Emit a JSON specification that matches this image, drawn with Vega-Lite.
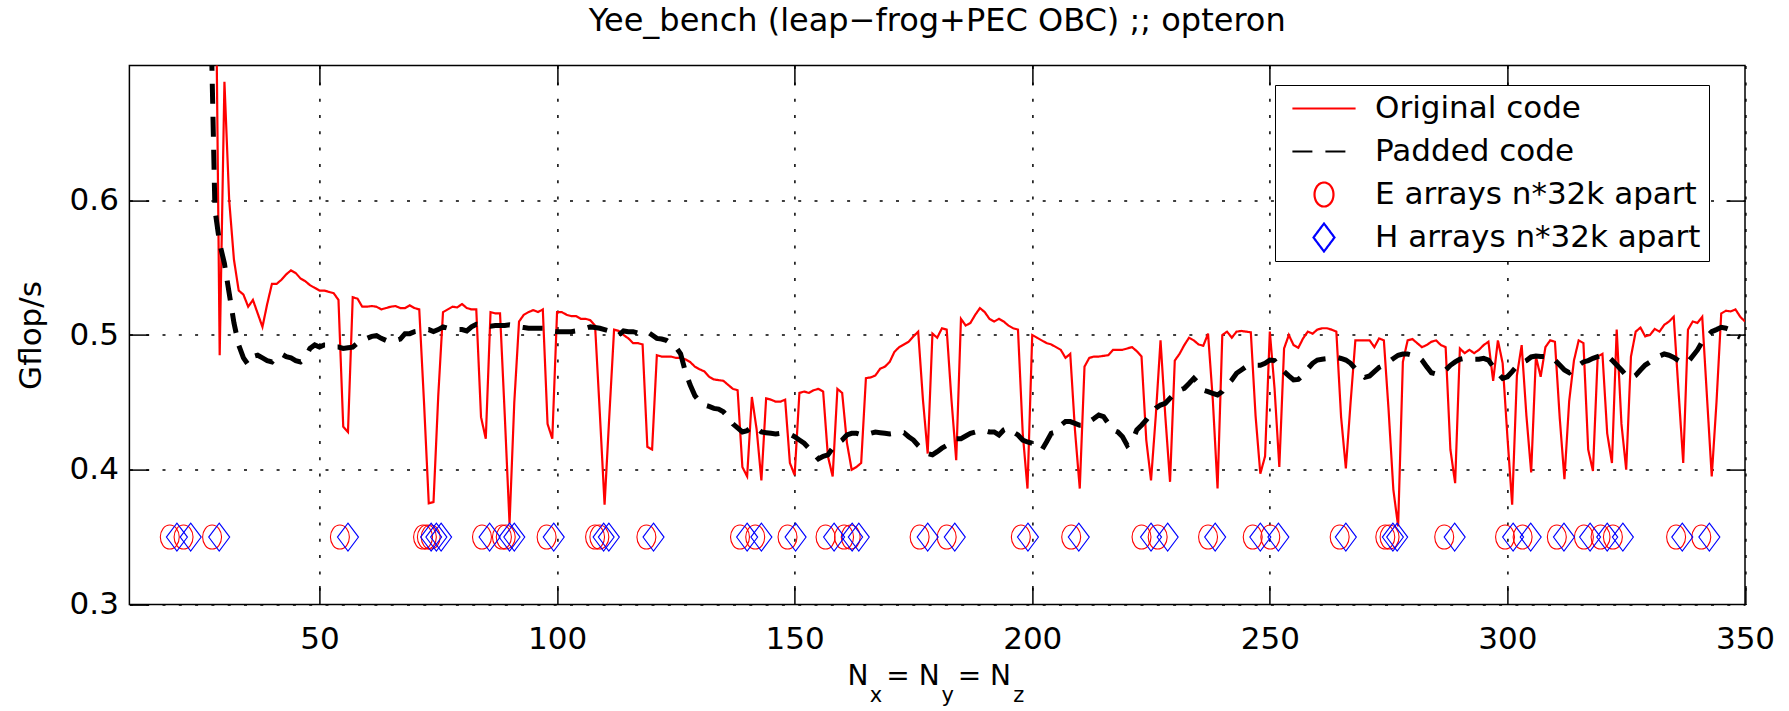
{
  "$schema": "https://vega.github.io/schema/vega-lite/v6.json",
  "width": 1615.6,
  "height": 538.8,
  "autosize": {"type": "none"},
  "padding": {"left": 129.4, "top": 65.6, "right": 44, "bottom": 106.6},
  "background": "#ffffff",
  "config": {
    "font": "DejaVu Sans",
    "view": {"stroke": "#000000", "strokeWidth": 1.5}
  },
  "title": {
    "text": "Yee_bench (leap−frog+PEC OBC) ;; opteron",
    "font": "DejaVu Sans",
    "fontSize": 32,
    "fontWeight": "normal",
    "color": "#000000",
    "anchor": "middle",
    "frame": "group",
    "offset": 27
  },
  "datasets": {
    "orig": [
      {"N":28,"v":0.84},{"N":29,"v":0.485},{"N":30,"v":0.688},{"N":31,"v":0.6},{"N":32,"v":0.556},{"N":33,"v":0.533},{"N":34,"v":0.53},{"N":35,"v":0.521},{"N":36,"v":0.526},{"N":37,"v":0.516},{"N":38,"v":0.506},{"N":39,"v":0.523},{"N":40,"v":0.538},{"N":41,"v":0.538},{"N":42,"v":0.541},{"N":43,"v":0.545},{"N":44,"v":0.548},{"N":45,"v":0.546},{"N":46,"v":0.542},{"N":47,"v":0.54},{"N":48,"v":0.537},{"N":49,"v":0.535},{"N":50,"v":0.533},
      {"N":51,"v":0.533},{"N":52,"v":0.532},{"N":53,"v":0.531},{"N":54,"v":0.526},{"N":55,"v":0.432},{"N":56,"v":0.428},{"N":57,"v":0.528},{"N":58,"v":0.527},{"N":59,"v":0.521},{"N":60,"v":0.521},{"N":61,"v":0.5215},{"N":62,"v":0.521},{"N":63,"v":0.519},{"N":64,"v":0.52},{"N":65,"v":0.521},{"N":66,"v":0.5215},{"N":67,"v":0.52},{"N":68,"v":0.52},{"N":69,"v":0.522},{"N":70,"v":0.52},{"N":71,"v":0.519},{"N":72,"v":0.45},{"N":73,"v":0.375},{"N":74,"v":0.376},{"N":75,"v":0.455},
      {"N":76,"v":0.517},{"N":77,"v":0.519},{"N":78,"v":0.521},{"N":79,"v":0.5205},{"N":80,"v":0.523},{"N":81,"v":0.52},{"N":82,"v":0.519},{"N":83,"v":0.519},{"N":84,"v":0.439},{"N":85,"v":0.423},{"N":86,"v":0.517},{"N":87,"v":0.516},{"N":88,"v":0.516},{"N":89,"v":0.44},{"N":90,"v":0.36},{"N":91,"v":0.45},{"N":92,"v":0.51},{"N":93,"v":0.515},{"N":94,"v":0.517},{"N":95,"v":0.5185},{"N":96,"v":0.517},{"N":97,"v":0.519},{"N":98,"v":0.434},{"N":99,"v":0.423},{"N":100,"v":0.517},
      {"N":101,"v":0.517},{"N":102,"v":0.515},{"N":103,"v":0.514},{"N":104,"v":0.514},{"N":105,"v":0.512},{"N":106,"v":0.512},{"N":107,"v":0.511},{"N":108,"v":0.507},{"N":109,"v":0.442},{"N":110,"v":0.374},{"N":111,"v":0.44},{"N":112,"v":0.504},{"N":113,"v":0.503},{"N":114,"v":0.5},{"N":115,"v":0.4975},{"N":116,"v":0.494},{"N":117,"v":0.494},{"N":118,"v":0.493},{"N":119,"v":0.417},{"N":120,"v":0.415},{"N":121,"v":0.485},{"N":122,"v":0.484},{"N":123,"v":0.484},{"N":124,"v":0.484},{"N":125,"v":0.483},
      {"N":126,"v":0.483},{"N":127,"v":0.482},{"N":128,"v":0.48},{"N":129,"v":0.4765},{"N":130,"v":0.4745},{"N":131,"v":0.473},{"N":132,"v":0.469},{"N":133,"v":0.467},{"N":134,"v":0.4665},{"N":135,"v":0.466},{"N":136,"v":0.463},{"N":137,"v":0.46},{"N":138,"v":0.459},{"N":139,"v":0.402},{"N":140,"v":0.395},{"N":141,"v":0.454},{"N":142,"v":0.43},{"N":143,"v":0.392},{"N":144,"v":0.453},{"N":145,"v":0.452},{"N":146,"v":0.4505},{"N":147,"v":0.4505},{"N":148,"v":0.452},{"N":149,"v":0.405},{"N":150,"v":0.396},
      {"N":151,"v":0.457},{"N":152,"v":0.458},{"N":153,"v":0.457},{"N":154,"v":0.459},{"N":155,"v":0.46},{"N":156,"v":0.458},{"N":157,"v":0.41},{"N":158,"v":0.395},{"N":159,"v":0.46},{"N":160,"v":0.457},{"N":161,"v":0.42},{"N":162,"v":0.4},{"N":163,"v":0.402},{"N":164,"v":0.405},{"N":165,"v":0.468},{"N":166,"v":0.4685},{"N":167,"v":0.47},{"N":168,"v":0.475},{"N":169,"v":0.4765},{"N":170,"v":0.48},{"N":171,"v":0.4875},{"N":172,"v":0.491},{"N":173,"v":0.493},{"N":174,"v":0.495},{"N":175,"v":0.499},
      {"N":176,"v":0.5025},{"N":177,"v":0.452},{"N":178,"v":0.412},{"N":179,"v":0.501},{"N":180,"v":0.498},{"N":181,"v":0.505},{"N":182,"v":0.504},{"N":183,"v":0.452},{"N":184,"v":0.407},{"N":185,"v":0.512},{"N":186,"v":0.507},{"N":187,"v":0.509},{"N":188,"v":0.515},{"N":189,"v":0.52},{"N":190,"v":0.517},{"N":191,"v":0.512},{"N":192,"v":0.51},{"N":193,"v":0.512},{"N":194,"v":0.51},{"N":195,"v":0.507},{"N":196,"v":0.505},{"N":197,"v":0.504},{"N":198,"v":0.427},{"N":199,"v":0.386},{"N":200,"v":0.5},
      {"N":201,"v":0.498},{"N":202,"v":0.496},{"N":203,"v":0.494},{"N":204,"v":0.493},{"N":205,"v":0.491},{"N":206,"v":0.489},{"N":207,"v":0.483},{"N":208,"v":0.486},{"N":209,"v":0.429},{"N":210,"v":0.386},{"N":211,"v":0.4765},{"N":212,"v":0.483},{"N":213,"v":0.484},{"N":214,"v":0.484},{"N":215,"v":0.4845},{"N":216,"v":0.485},{"N":217,"v":0.489},{"N":218,"v":0.489},{"N":219,"v":0.489},{"N":220,"v":0.49},{"N":221,"v":0.491},{"N":222,"v":0.488},{"N":223,"v":0.484},{"N":224,"v":0.422},{"N":225,"v":0.392},
      {"N":226,"v":0.44},{"N":227,"v":0.496},{"N":228,"v":0.44},{"N":229,"v":0.391},{"N":230,"v":0.481},{"N":231,"v":0.486},{"N":232,"v":0.4925},{"N":233,"v":0.498},{"N":234,"v":0.496},{"N":235,"v":0.493},{"N":236,"v":0.492},{"N":237,"v":0.501},{"N":238,"v":0.452},{"N":239,"v":0.386},{"N":240,"v":0.5},{"N":241,"v":0.5025},{"N":242,"v":0.498},{"N":243,"v":0.5025},{"N":244,"v":0.503},{"N":245,"v":0.5025},{"N":246,"v":0.502},{"N":247,"v":0.44},{"N":248,"v":0.397},{"N":249,"v":0.41},{"N":250,"v":0.5025},
      {"N":251,"v":0.46},{"N":252,"v":0.402},{"N":253,"v":0.49},{"N":254,"v":0.5},{"N":255,"v":0.4925},{"N":256,"v":0.4905},{"N":257,"v":0.4975},{"N":258,"v":0.5025},{"N":259,"v":0.501},{"N":260,"v":0.504},{"N":261,"v":0.505},{"N":262,"v":0.505},{"N":263,"v":0.504},{"N":264,"v":0.5025},{"N":265,"v":0.439},{"N":266,"v":0.401},{"N":267,"v":0.45},{"N":268,"v":0.496},{"N":269,"v":0.496},{"N":270,"v":0.496},{"N":271,"v":0.496},{"N":272,"v":0.491},{"N":273,"v":0.4975},{"N":274,"v":0.496},{"N":275,"v":0.444},
      {"N":276,"v":0.385},{"N":277,"v":0.358},{"N":278,"v":0.48},{"N":279,"v":0.496},{"N":280,"v":0.497},{"N":281,"v":0.494},{"N":282,"v":0.491},{"N":283,"v":0.4925},{"N":284,"v":0.495},{"N":285,"v":0.496},{"N":286,"v":0.4925},{"N":287,"v":0.491},{"N":288,"v":0.415},{"N":289,"v":0.39},{"N":290,"v":0.49},{"N":291,"v":0.4865},{"N":292,"v":0.489},{"N":293,"v":0.4865},{"N":294,"v":0.489},{"N":295,"v":0.4925},{"N":296,"v":0.495},{"N":297,"v":0.466},{"N":298,"v":0.496},{"N":299,"v":0.479},{"N":300,"v":0.4245},
      {"N":301,"v":0.374},{"N":302,"v":0.47},{"N":303,"v":0.4925},{"N":304,"v":0.44},{"N":305,"v":0.398},{"N":306,"v":0.484},{"N":307,"v":0.469},{"N":308,"v":0.491},{"N":309,"v":0.496},{"N":310,"v":0.495},{"N":311,"v":0.439},{"N":312,"v":0.393},{"N":313,"v":0.451},{"N":314,"v":0.481},{"N":315,"v":0.496},{"N":316,"v":0.494},{"N":317,"v":0.415},{"N":318,"v":0.399},{"N":319,"v":0.484},{"N":320,"v":0.486},{"N":321,"v":0.427},{"N":322,"v":0.405},{"N":323,"v":0.504},{"N":324,"v":0.434},{"N":325,"v":0.4},
      {"N":326,"v":0.484},{"N":327,"v":0.5025},{"N":328,"v":0.5055},{"N":329,"v":0.499},{"N":330,"v":0.5},{"N":331,"v":0.5045},{"N":332,"v":0.5025},{"N":333,"v":0.5075},{"N":334,"v":0.51},{"N":335,"v":0.5135},{"N":336,"v":0.459},{"N":337,"v":0.405},{"N":338,"v":0.504},{"N":339,"v":0.51},{"N":340,"v":0.509},{"N":341,"v":0.5135},{"N":342,"v":0.454},{"N":343,"v":0.395},{"N":344,"v":0.45},{"N":345,"v":0.516},{"N":346,"v":0.518},{"N":347,"v":0.5175},{"N":348,"v":0.519},{"N":349,"v":0.5135},{"N":350,"v":0.51}
    ],
    "pad": [
      {"N":27,"v":0.76},{"N":28,"v":0.593},{"N":29,"v":0.568},{"N":30,"v":0.553},{"N":31,"v":0.531},{"N":32,"v":0.509},{"N":33,"v":0.4926},{"N":34,"v":0.483},{"N":35,"v":0.478},{"N":36,"v":0.484},{"N":37,"v":0.485},{"N":38,"v":0.483},{"N":39,"v":0.481},{"N":40,"v":0.48},{"N":41,"v":0.484},{"N":42,"v":0.486},{"N":43,"v":0.484},{"N":44,"v":0.483},{"N":45,"v":0.481},{"N":46,"v":0.48},{"N":47,"v":0.483},{"N":48,"v":0.49},{"N":49,"v":0.4926},{"N":50,"v":0.491},
      {"N":51,"v":0.4926},{"N":52,"v":0.4926},{"N":53,"v":0.491},{"N":54,"v":0.491},{"N":55,"v":0.49},{"N":56,"v":0.4905},{"N":57,"v":0.491},{"N":58,"v":0.494},{"N":59,"v":0.495},{"N":60,"v":0.4975},{"N":61,"v":0.499},{"N":62,"v":0.4995},{"N":63,"v":0.4975},{"N":64,"v":0.496},{"N":65,"v":0.495},{"N":66,"v":0.496},{"N":67,"v":0.497},{"N":68,"v":0.501},{"N":69,"v":0.501},{"N":70,"v":0.5025},{"N":71,"v":0.503},{"N":72,"v":0.504},{"N":73,"v":0.504},{"N":74,"v":0.5025},{"N":75,"v":0.504},
      {"N":76,"v":0.506},{"N":77,"v":0.505},{"N":78,"v":0.5045},{"N":79,"v":0.504},{"N":80,"v":0.504},{"N":81,"v":0.503},{"N":82,"v":0.506},{"N":83,"v":0.508},{"N":84,"v":0.5075},{"N":85,"v":0.507},{"N":86,"v":0.5065},{"N":87,"v":0.507},{"N":88,"v":0.507},{"N":89,"v":0.507},{"N":90,"v":0.5075},{"N":91,"v":0.507},{"N":92,"v":0.506},{"N":93,"v":0.5055},{"N":94,"v":0.505},{"N":95,"v":0.505},{"N":96,"v":0.505},{"N":97,"v":0.505},{"N":98,"v":0.504},{"N":99,"v":0.503},{"N":100,"v":0.5025},
      {"N":101,"v":0.5025},{"N":102,"v":0.5025},{"N":103,"v":0.5025},{"N":104,"v":0.503},{"N":105,"v":0.504},{"N":106,"v":0.505},{"N":107,"v":0.506},{"N":108,"v":0.5055},{"N":109,"v":0.505},{"N":110,"v":0.504},{"N":111,"v":0.503},{"N":112,"v":0.5025},{"N":113,"v":0.5},{"N":114,"v":0.503},{"N":115,"v":0.5025},{"N":116,"v":0.5025},{"N":117,"v":0.5015},{"N":118,"v":0.5025},{"N":119,"v":0.5025},{"N":120,"v":0.5},{"N":121,"v":0.4975},{"N":122,"v":0.497},{"N":123,"v":0.496},{"N":124,"v":0.4935},{"N":125,"v":0.491},
      {"N":126,"v":0.486},{"N":127,"v":0.473},{"N":128,"v":0.463},{"N":129,"v":0.455},{"N":130,"v":0.4505},{"N":131,"v":0.448},{"N":132,"v":0.447},{"N":133,"v":0.4455},{"N":134,"v":0.445},{"N":135,"v":0.443},{"N":136,"v":0.439},{"N":137,"v":0.434},{"N":138,"v":0.431},{"N":139,"v":0.428},{"N":140,"v":0.429},{"N":141,"v":0.432},{"N":142,"v":0.431},{"N":143,"v":0.428},{"N":144,"v":0.4275},{"N":145,"v":0.427},{"N":146,"v":0.4265},{"N":147,"v":0.427},{"N":148,"v":0.427},{"N":149,"v":0.4263},{"N":150,"v":0.4245},
      {"N":151,"v":0.422},{"N":152,"v":0.4196},{"N":153,"v":0.416},{"N":154,"v":0.412},{"N":155,"v":0.408},{"N":156,"v":0.41},{"N":157,"v":0.411},{"N":158,"v":0.416},{"N":159,"v":0.4196},{"N":160,"v":0.422},{"N":161,"v":0.4258},{"N":162,"v":0.427},{"N":163,"v":0.427},{"N":164,"v":0.426},{"N":165,"v":0.4258},{"N":166,"v":0.427},{"N":167,"v":0.428},{"N":168,"v":0.4275},{"N":169,"v":0.427},{"N":170,"v":0.4265},{"N":171,"v":0.427},{"N":172,"v":0.4275},{"N":173,"v":0.4275},{"N":174,"v":0.4245},{"N":175,"v":0.422},
      {"N":176,"v":0.418},{"N":177,"v":0.4146},{"N":178,"v":0.412},{"N":179,"v":0.411},{"N":180,"v":0.4134},{"N":181,"v":0.416},{"N":182,"v":0.418},{"N":183,"v":0.4206},{"N":184,"v":0.423},{"N":185,"v":0.423},{"N":186,"v":0.425},{"N":187,"v":0.427},{"N":188,"v":0.428},{"N":189,"v":0.429},{"N":190,"v":0.429},{"N":191,"v":0.428},{"N":192,"v":0.428},{"N":193,"v":0.4258},{"N":194,"v":0.4295},{"N":195,"v":0.431},{"N":196,"v":0.428},{"N":197,"v":0.4258},{"N":198,"v":0.422},{"N":199,"v":0.4206},{"N":200,"v":0.4196},
      {"N":201,"v":0.417},{"N":202,"v":0.4146},{"N":203,"v":0.4206},{"N":204,"v":0.427},{"N":205,"v":0.428},{"N":206,"v":0.433},{"N":207,"v":0.4357},{"N":208,"v":0.4357},{"N":209,"v":0.4344},{"N":210,"v":0.433},{"N":211,"v":0.433},{"N":212,"v":0.4357},{"N":213,"v":0.438},{"N":214,"v":0.4406},{"N":215,"v":0.4394},{"N":216,"v":0.4344},{"N":217,"v":0.4295},{"N":218,"v":0.428},{"N":219,"v":0.4245},{"N":220,"v":0.418},{"N":221,"v":0.4208},{"N":222,"v":0.4295},{"N":223,"v":0.433},{"N":224,"v":0.4369},{"N":225,"v":0.4418},
      {"N":226,"v":0.4456},{"N":227,"v":0.448},{"N":228,"v":0.4493},{"N":229,"v":0.453},{"N":230,"v":0.4567},{"N":231,"v":0.459},{"N":232,"v":0.4604},{"N":233,"v":0.464},{"N":234,"v":0.4678},{"N":235,"v":0.464},{"N":236,"v":0.459},{"N":237,"v":0.458},{"N":238,"v":0.4567},{"N":239,"v":0.4555},{"N":240,"v":0.458},{"N":241,"v":0.463},{"N":242,"v":0.4666},{"N":243,"v":0.4716},{"N":244,"v":0.474},{"N":245,"v":0.4765},{"N":246,"v":0.477},{"N":247,"v":0.4775},{"N":248,"v":0.4775},{"N":249,"v":0.479},{"N":250,"v":0.4814},
      {"N":251,"v":0.481},{"N":252,"v":0.4765},{"N":253,"v":0.4728},{"N":254,"v":0.4696},{"N":255,"v":0.4666},{"N":256,"v":0.467},{"N":257,"v":0.47},{"N":258,"v":0.475},{"N":259,"v":0.479},{"N":260,"v":0.4814},{"N":261,"v":0.482},{"N":262,"v":0.4824},{"N":263,"v":0.4826},{"N":264,"v":0.4834},{"N":265,"v":0.4826},{"N":266,"v":0.4814},{"N":267,"v":0.479},{"N":268,"v":0.475},{"N":269,"v":0.4716},{"N":270,"v":0.4686},{"N":271,"v":0.4696},{"N":272,"v":0.4728},{"N":273,"v":0.476},{"N":274,"v":0.4775},{"N":275,"v":0.48},
      {"N":276,"v":0.4826},{"N":277,"v":0.485},{"N":278,"v":0.4859},{"N":279,"v":0.4859},{"N":280,"v":0.485},{"N":281,"v":0.4844},{"N":282,"v":0.4814},{"N":283,"v":0.4765},{"N":284,"v":0.472},{"N":285,"v":0.471},{"N":286,"v":0.471},{"N":287,"v":0.474},{"N":288,"v":0.4775},{"N":289,"v":0.48},{"N":290,"v":0.482},{"N":291,"v":0.4827},{"N":292,"v":0.4827},{"N":293,"v":0.482},{"N":294,"v":0.482},{"N":295,"v":0.4827},{"N":296,"v":0.4814},{"N":297,"v":0.4765},{"N":298,"v":0.4716},{"N":299,"v":0.4678},{"N":300,"v":0.469},
      {"N":301,"v":0.4728},{"N":302,"v":0.477},{"N":303,"v":0.4795},{"N":304,"v":0.481},{"N":305,"v":0.4837},{"N":306,"v":0.4844},{"N":307,"v":0.484},{"N":308,"v":0.484},{"N":309,"v":0.484},{"N":310,"v":0.4814},{"N":311,"v":0.4777},{"N":312,"v":0.474},{"N":313,"v":0.472},{"N":314,"v":0.475},{"N":315,"v":0.4777},{"N":316,"v":0.48},{"N":317,"v":0.481},{"N":318,"v":0.4827},{"N":319,"v":0.484},{"N":320,"v":0.4852},{"N":321,"v":0.4845},{"N":322,"v":0.4814},{"N":323,"v":0.4777},{"N":324,"v":0.474},{"N":325,"v":0.47},
      {"N":326,"v":0.4678},{"N":327,"v":0.47},{"N":328,"v":0.474},{"N":329,"v":0.4777},{"N":330,"v":0.48},{"N":331,"v":0.4827},{"N":332,"v":0.4844},{"N":333,"v":0.4859},{"N":334,"v":0.485},{"N":335,"v":0.4834},{"N":336,"v":0.481},{"N":337,"v":0.479},{"N":338,"v":0.48},{"N":339,"v":0.4844},{"N":340,"v":0.4889},{"N":341,"v":0.495},{"N":342,"v":0.4988},{"N":343,"v":0.5025},{"N":344,"v":0.504},{"N":345,"v":0.5057},{"N":346,"v":0.505},{"N":347,"v":0.5037},{"N":348,"v":0.5},{"N":349,"v":0.4983}
    ],
    "earr": [
      {"N":18.5,"v":0.35},{"N":21.4,"v":0.35},{"N":27.4,"v":0.35},{"N":54.3,"v":0.35},{"N":71.8,"v":0.35},{"N":72.6,"v":0.35},{"N":73.4,"v":0.35},{"N":84.2,"v":0.35},{"N":88.4,"v":0.35},{"N":89.2,"v":0.35},{"N":97.8,"v":0.35},{"N":108.0,"v":0.35},{"N":108.9,"v":0.35},{"N":118.8,"v":0.35},{"N":138.5,"v":0.35},{"N":141.7,"v":0.35},{"N":148.5,"v":0.35},{"N":156.5,"v":0.35},{"N":160.4,"v":0.35},{"N":161.8,"v":0.35},{"N":176.3,"v":0.35},
      {"N":182.0,"v":0.35},{"N":197.6,"v":0.35},{"N":208.2,"v":0.35},{"N":223.0,"v":0.35},{"N":226.4,"v":0.35},{"N":237.0,"v":0.35},{"N":246.4,"v":0.35},{"N":250.1,"v":0.35},{"N":264.7,"v":0.35},{"N":274.3,"v":0.35},{"N":275.2,"v":0.35},{"N":286.7,"v":0.35},{"N":299.5,"v":0.35},{"N":303.2,"v":0.35},{"N":310.4,"v":0.35},{"N":316.1,"v":0.35},{"N":319.6,"v":0.35},{"N":322.2,"v":0.35},{"N":335.5,"v":0.35},{"N":340.8,"v":0.35}
    ],
    "harr": [
      {"N":20.0,"v":0.35},{"N":22.9,"v":0.35},{"N":28.9,"v":0.35},{"N":56.0,"v":0.35},{"N":73.5,"v":0.35},{"N":74.6,"v":0.35},{"N":75.6,"v":0.35},{"N":85.8,"v":0.35},{"N":90.0,"v":0.35},{"N":91.0,"v":0.35},{"N":99.3,"v":0.35},{"N":109.8,"v":0.35},{"N":110.9,"v":0.35},{"N":120.3,"v":0.35},{"N":140.0,"v":0.35},{"N":143.0,"v":0.35},{"N":150.2,"v":0.35},{"N":158.3,"v":0.35},{"N":162.1,"v":0.35},{"N":163.5,"v":0.35},{"N":178.0,"v":0.35},
      {"N":183.7,"v":0.35},{"N":199.1,"v":0.35},{"N":209.8,"v":0.35},{"N":225.0,"v":0.35},{"N":228.5,"v":0.35},{"N":238.5,"v":0.35},{"N":248.0,"v":0.35},{"N":251.8,"v":0.35},{"N":266.0,"v":0.35},{"N":275.9,"v":0.35},{"N":276.8,"v":0.35},{"N":288.9,"v":0.35},{"N":301.2,"v":0.35},{"N":304.9,"v":0.35},{"N":311.9,"v":0.35},{"N":317.4,"v":0.35},{"N":321.0,"v":0.35},{"N":324.3,"v":0.35},{"N":336.8,"v":0.35},{"N":342.5,"v":0.35}
    ]
  },
  "layer": [
    {
      "data": {"name": "orig"},
      "mark": {"type": "line", "strokeWidth": 2.2, "clip": true},
      "encoding": {
        "x": {"field": "N", "type": "quantitative",
          "scale": {"domain": [10, 350], "nice": false, "zero": false},
          "axis": {"orient": "bottom", "values": [50, 100, 150, 200, 250, 300, 350], "title": null,
            "domain": false, "grid": true, "gridColor": "#000000", "gridDash": [3, 13.3], "gridWidth": 1.5, "gridOpacity": 1,
            "ticks": true, "tickSize": -19, "tickColor": "#000000", "tickWidth": 1.5,
            "labelPadding": 39, "labelFont": "DejaVu Sans", "labelFontSize": 31, "labelColor": "#000000", "labelFlush": false, "labelOverlap": false}},
        "y": {"field": "v", "type": "quantitative",
          "scale": {"domain": [0.3, 0.7], "nice": false, "zero": false},
          "axis": {"orient": "left", "values": [0.3, 0.4, 0.5, 0.6], "format": ".1f", "title": "Gflop/s",
            "titleFont": "DejaVu Sans", "titleFontSize": 31, "titleFontWeight": "normal", "titleColor": "#000000", "titlePadding": 22,
            "domain": false, "grid": true, "gridColor": "#000000", "gridDash": [3, 13.3], "gridWidth": 1.5, "gridOpacity": 1,
            "ticks": true, "tickSize": -19, "tickColor": "#000000", "tickWidth": 1.5,
            "labelPadding": 30, "labelFont": "DejaVu Sans", "labelFontSize": 31, "labelColor": "#000000", "labelFlush": false, "labelOverlap": false}},
        "color": {"datum": "Original code", "type": "nominal",
          "scale": {"domain": ["Original code", "Padded code", "E arrays n*32k apart", "H arrays n*32k apart"], "range": ["#ff0000", "#000000", "#ff0000", "#0000ff"]},
          "legend": {
            "orient": "none", "legendX": 1145.6, "legendY": 19.4, "title": null, "direction": "vertical",
            "padding": 8, "strokeColor": "#000000", "fillColor": "#ffffff", "cornerRadius": 0,
            "labelFont": "DejaVu Sans", "labelFontSize": 31, "labelColor": "#000000", "labelLimit": 1000,
            "symbolSize": 6241, "symbolStrokeWidth": 2.2, "symbolFillColor": "transparent", "clipHeight": 31, "labelOffset": 10, "rowPadding": 11
          }},
        "strokeDash": {"datum": "Original code", "type": "nominal",
          "scale": {"domain": ["Original code", "Padded code", "E arrays n*32k apart", "H arrays n*32k apart"], "range": [[1, 0], [20, 13], [1, 0], [1, 0]]}}
      }
    },
    {
      "data": {"name": "pad"},
      "mark": {"type": "line", "strokeWidth": 5, "strokeCap": "butt", "clip": true},
      "encoding": {
        "x": {"field": "N", "type": "quantitative",
          "axis": {"orient": "top", "values": [50, 100, 150, 200, 250, 300], "title": null, "labels": false, "domain": false, "grid": false,
            "ticks": true, "tickSize": -19, "tickColor": "#000000", "tickWidth": 1.5}},
        "y": {"field": "v", "type": "quantitative",
          "axis": {"orient": "right", "values": [0.4, 0.5, 0.6], "title": null, "labels": false, "domain": false, "grid": false,
            "ticks": true, "tickSize": -19, "tickColor": "#000000", "tickWidth": 1.5}},
        "color": {"datum": "Padded code", "type": "nominal"},
        "strokeDash": {"datum": "Padded code", "type": "nominal"}
      }
    },
    {
      "data": {"name": "earr"},
      "mark": {"type": "point", "size": 6241, "filled": false, "strokeWidth": 1.1, "opacity": 1},
      "encoding": {
        "x": {"field": "N", "type": "quantitative", "axis": null},
        "y": {"field": "v", "type": "quantitative", "axis": null},
        "color": {"datum": "E arrays n*32k apart", "type": "nominal"},
        "shape": {"datum": "E arrays n*32k apart", "type": "nominal",
          "scale": {"domain": ["Original code", "Padded code", "E arrays n*32k apart", "H arrays n*32k apart"],
            "range": ["M-0.8,0L0.8,0", "M-0.8,0L0.8,0", "M-0.24,0A0.24,0.304 0 1,1 0.24,0A0.24,0.304 0 1,1 -0.24,0Z", "M0,-0.354L0.266,0L0,0.354L-0.266,0Z"]}}
      }
    },
    {
      "data": {"name": "harr"},
      "mark": {"type": "point", "size": 6241, "filled": false, "strokeWidth": 1.1, "opacity": 1},
      "encoding": {
        "x": {"field": "N", "type": "quantitative", "axis": null},
        "y": {"field": "v", "type": "quantitative", "axis": null},
        "color": {"datum": "H arrays n*32k apart", "type": "nominal"},
        "shape": {"datum": "H arrays n*32k apart", "type": "nominal"}
      }
    },
    {
      "data": {"values": [{"t": "N"}]},
      "mark": {"type": "text", "align": "left", "baseline": "alphabetic", "font": "DejaVu Sans", "fontSize": 28, "color": "#000000", "dy": 80.6},
      "encoding": {"x": {"datum": 161.1, "type": "quantitative", "axis": null}, "y": {"datum": 0.3, "type": "quantitative", "axis": null}, "text": {"field": "t"}}
    },
    {
      "data": {"values": [{"t": "x"}]},
      "mark": {"type": "text", "align": "left", "baseline": "alphabetic", "font": "DejaVu Sans", "fontSize": 21, "color": "#000000", "dy": 97.6},
      "encoding": {"x": {"datum": 165.8, "type": "quantitative", "axis": null}, "y": {"datum": 0.3, "type": "quantitative", "axis": null}, "text": {"field": "t"}}
    },
    {
      "data": {"values": [{"t": "= N"}]},
      "mark": {"type": "text", "align": "left", "baseline": "alphabetic", "font": "DejaVu Sans", "fontSize": 28, "color": "#000000", "dy": 80.6},
      "encoding": {"x": {"datum": 169.3, "type": "quantitative", "axis": null}, "y": {"datum": 0.3, "type": "quantitative", "axis": null}, "text": {"field": "t"}}
    },
    {
      "data": {"values": [{"t": "y"}]},
      "mark": {"type": "text", "align": "left", "baseline": "alphabetic", "font": "DejaVu Sans", "fontSize": 21, "color": "#000000", "dy": 97.6},
      "encoding": {"x": {"datum": 180.9, "type": "quantitative", "axis": null}, "y": {"datum": 0.3, "type": "quantitative", "axis": null}, "text": {"field": "t"}}
    },
    {
      "data": {"values": [{"t": "= N"}]},
      "mark": {"type": "text", "align": "left", "baseline": "alphabetic", "font": "DejaVu Sans", "fontSize": 28, "color": "#000000", "dy": 80.6},
      "encoding": {"x": {"datum": 184.3, "type": "quantitative", "axis": null}, "y": {"datum": 0.3, "type": "quantitative", "axis": null}, "text": {"field": "t"}}
    },
    {
      "data": {"values": [{"t": "z"}]},
      "mark": {"type": "text", "align": "left", "baseline": "alphabetic", "font": "DejaVu Sans", "fontSize": 21, "color": "#000000", "dy": 97.6},
      "encoding": {"x": {"datum": 196.0, "type": "quantitative", "axis": null}, "y": {"datum": 0.3, "type": "quantitative", "axis": null}, "text": {"field": "t"}}
    }
  ],
  "resolve": {"axis": {"x": "independent", "y": "independent"}}
}
